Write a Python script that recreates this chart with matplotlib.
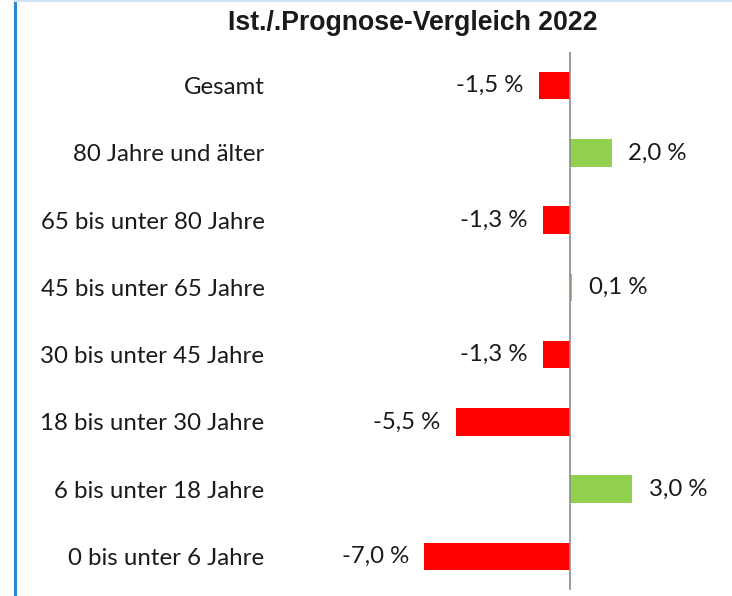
import matplotlib
matplotlib.use("Agg")
import matplotlib.pyplot as plt
from matplotlib.lines import Line2D

categories = ["Gesamt", "80 Jahre und älter", "65 bis unter 80 Jahre", "45 bis unter 65 Jahre",
              "30 bis unter 45 Jahre", "18 bis unter 30 Jahre", "6 bis unter 18 Jahre", "0 bis unter 6 Jahre"]
values = [-1.5, 2.0, -1.3, 0.1, -1.3, -5.5, 3.0, -7.0]
title = "Ist./.Prognose-Vergleich 2022"

W, H = 732, 596
fig = plt.figure(figsize=(W / 100, H / 100), dpi=100)
fig.patch.set_facecolor("white")

# axes geometry in pixels
ax_left, ax_right, ax_top, ax_bottom = 270, 720, 52, 590
ax = fig.add_axes([ax_left / W, (H - ax_bottom) / H, (ax_right - ax_left) / W, (ax_bottom - ax_top) / H])
zero_px, px_per_unit = 570, 20.8
ax.set_xlim((ax_left - zero_px) / px_per_unit, (ax_right - zero_px) / px_per_unit)
ax.set_ylim(len(categories) - 0.5, -0.5)

colors = ["#FF0000" if v < 0 else "#92D050" for v in values]
ypos = list(range(len(categories)))
ax.barh(ypos, values, height=0.41, color=colors, edgecolor="none", zorder=2)
ax.axvline(0, color="#8c8c8c", lw=1.2, zorder=3)

font = "Lato"
fs = 17.3
for y, v in zip(ypos, values):
    lbl = f"{v:.1f}".replace(".", ",") + " %"
    if v < 0:
        ax.annotate(lbl, (v, y), xytext=(-11, 0), textcoords="offset points", ha="right", va="center",
                    fontsize=fs, family=font, color="#1a1a1a")
    else:
        ax.annotate(lbl, (v, y), xytext=(12, 0), textcoords="offset points", ha="left", va="center",
                    fontsize=fs, family=font, color="#1a1a1a")

ax.set_yticks(ypos)
ax.set_yticklabels(categories, fontsize=fs, family=font, color="#1a1a1a")
ax.tick_params(axis="y", length=0, pad=4)
ax.set_xticks([])
for s in ax.spines.values():
    s.set_visible(False)

fig.text(413 / W, 1 - 23 / H, title, ha="center", va="center", fontsize=19.2,
         fontweight="bold", family="Liberation Sans", color="#1a1a1a")

# borders
fig.add_artist(Line2D([14.5 / W, 14.5 / W], [0, 1], color="#2b88d8", lw=2.2, transform=fig.transFigure))
fig.add_artist(Line2D([14.5 / W, 1], [1 - 1 / H, 1 - 1 / H], color="#d0e4f5", lw=1.5, transform=fig.transFigure))

fig.savefig("out.png", dpi=100)
